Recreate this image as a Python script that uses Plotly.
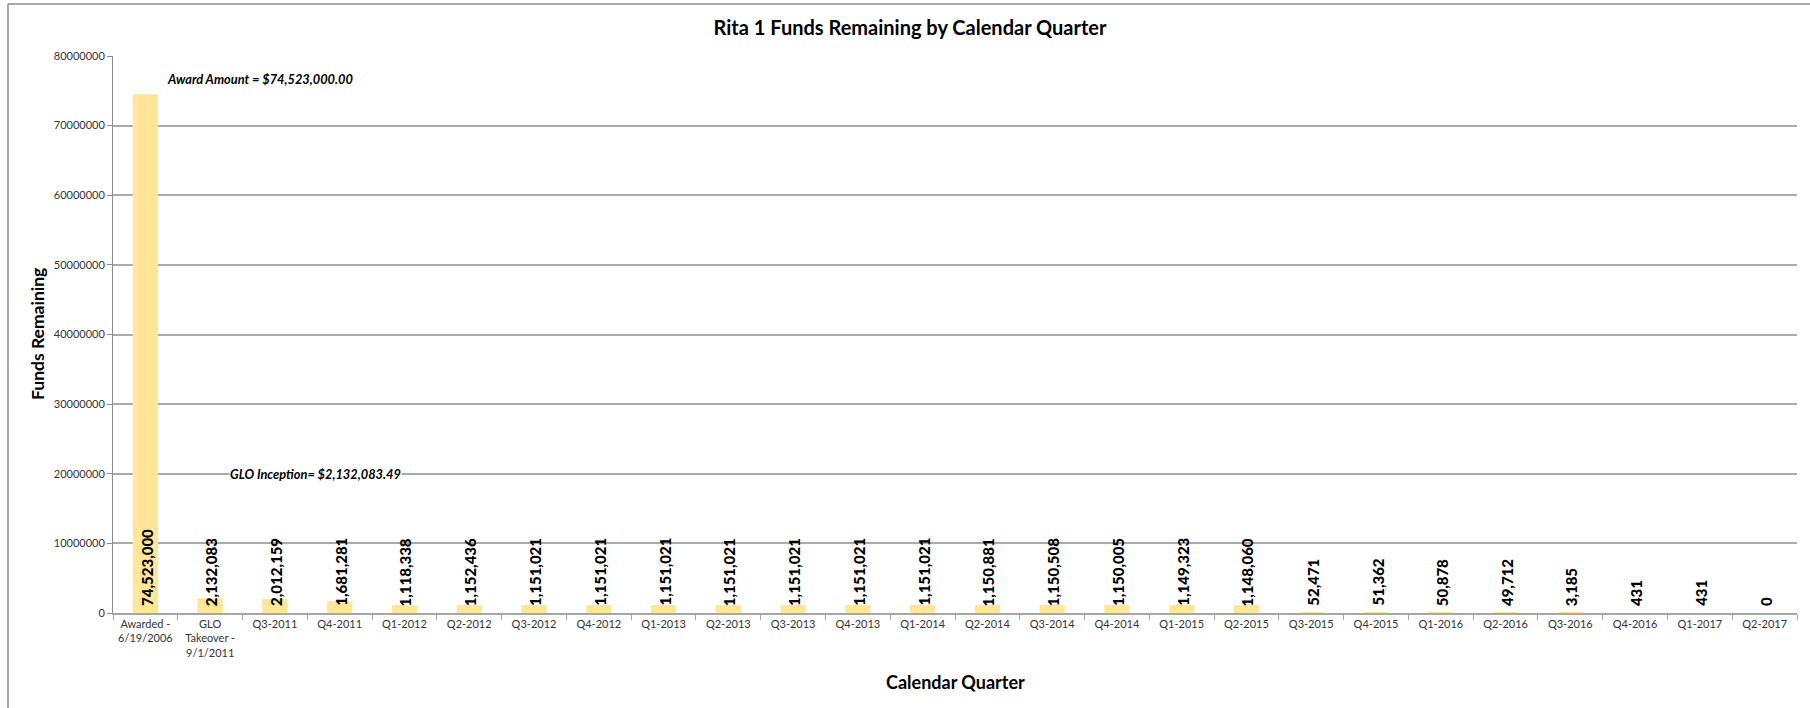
import plotly.graph_objects as go

# Quarter categories and remaining balances
categories = [
    "Awarded -<br>6/19/2006", "GLO<br>Takeover -<br>9/1/2011",
    "Q3-2011", "Q4-2011",
    "Q1-2012", "Q2-2012", "Q3-2012", "Q4-2012",
    "Q1-2013", "Q2-2013", "Q3-2013", "Q4-2013",
    "Q1-2014", "Q2-2014", "Q3-2014", "Q4-2014",
    "Q1-2015", "Q2-2015", "Q3-2015", "Q4-2015",
    "Q1-2016", "Q2-2016", "Q3-2016", "Q4-2016",
    "Q1-2017", "Q2-2017",
]
funds_remaining = [
    74523000, 2132083, 2012159, 1681281,
    1118338, 1152436, 1151021, 1151021,
    1151021, 1151021, 1151021, 1151021,
    1151021, 1150881, 1150508, 1150005,
    1149323, 1148060, 52471, 51362,
    50878, 49712, 3185, 431,
    431, 0,
]
y_ticks = [0, 10000000, 20000000, 30000000, 40000000,
           50000000, 60000000, 70000000, 80000000]

award_note = "Award Amount = $74,523,000.00"
glo_note = "GLO Inception= $2,132,083.49"

# Canvas and plot-area geometry (pixels)
W, H = 1810, 708
L, R, T, B = 113, 13, 56, 95
PW, PH = W - L - R, H - T - B


def px_x(px):
    return (px - L) / PW


def px_y(py):
    return (H - B - py) / PH


FONT = "Lato"
BAR_COLOR = "#FFE699"
GRID = "#aaaaaa"

fig = go.Figure(
    go.Bar(
        x=categories,
        y=funds_remaining,
        marker=dict(color=BAR_COLOR, line=dict(width=0)),
        hoverinfo="x+y",
    )
)

annotations = []
# Rotated value labels sitting on the baseline of each bar
for cat, val in zip(categories, funds_remaining):
    annotations.append(dict(
        x=cat, y=0, xref="x", yref="y",
        text=f"{val:,}", textangle=-90,
        showarrow=False, xanchor="center", yanchor="bottom",
        yshift=5, xshift=1,
        font=dict(family=FONT, size=15, color="#000000", weight=900),
    ))

# Callout notes
annotations.append(dict(
    x=px_x(165), y=px_y(79), xref="paper", yref="paper",
    text=f"<i>{award_note}</i>", showarrow=False,
    xanchor="left", yanchor="middle",
    font=dict(family=FONT, size=12.8, color="#000000", weight="bold"),
))
annotations.append(dict(
    x=px_x(229), y=px_y(474), xref="paper", yref="paper",
    text=f"<i>{glo_note}</i>", showarrow=False,
    xanchor="left", yanchor="middle", bgcolor="#ffffff", borderpad=0,
    font=dict(family=FONT, size=12.8, color="#000000", weight="bold"),
))

# Axis titles
annotations.append(dict(
    x=0.5, y=px_y(682), xref="paper", yref="paper",
    text="Calendar Quarter", showarrow=False,
    xanchor="center", yanchor="middle",
    font=dict(family=FONT, size=18, color="#000000", weight="bold"),
))
annotations.append(dict(
    x=px_x(37.5), y=0.5, xref="paper", yref="paper",
    text="Funds Remaining", textangle=-90, showarrow=False,
    xanchor="center", yanchor="middle",
    font=dict(family=FONT, size=17.5, color="#000000", weight="bold"),
))

# Outer chart frame (left and top edges visible)
shapes = [
    dict(type="line", xref="paper", yref="paper",
         x0=px_x(8), x1=px_x(W + 5), y0=px_y(4), y1=px_y(4),
         line=dict(color="#8c8c8c", width=1.5)),
    dict(type="line", xref="paper", yref="paper",
         x0=px_x(8), x1=px_x(8), y0=px_y(4), y1=px_y(H + 5),
         line=dict(color="#8c8c8c", width=1.5)),
]

fig.update_layout(
    width=W, height=H,
    margin=dict(l=L, r=R, t=T, b=B, autoexpand=False),
    paper_bgcolor="#ffffff", plot_bgcolor="#ffffff",
    showlegend=False,
    bargap=0.61,
    font=dict(family=FONT, color="#333333"),
    title=dict(
        text="Rita 1 Funds Remaining by Calendar Quarter",
        x=910 / W, xanchor="center", xref="container",
        y=1 - 28 / H, yanchor="middle", yref="container",
        font=dict(family=FONT, size=20, color="#000000", weight="bold"),
    ),
    xaxis=dict(
        type="category",
        showline=True, linecolor="#a6a6a6", linewidth=1.5,
        ticks="outside", tickson="boundaries", ticklen=5,
        tickcolor="#a6a6a6", tickwidth=1,
        tickfont=dict(family=FONT, size=11, color="#333333"),
        showgrid=False,
        tickangle=0,
    ),
    yaxis=dict(
        range=[0, 80000000],
        tickvals=y_ticks,
        ticktext=[str(v) for v in y_ticks],
        showline=True, linecolor="#8c8c8c", linewidth=1,
        ticks="outside", ticklen=5, tickcolor="#8c8c8c",
        tickfont=dict(family=FONT, size=11, color="#333333"),
        showgrid=True, gridcolor=GRID, gridwidth=1.5,
        zeroline=False,
    ),
    annotations=annotations,
    shapes=shapes,
)

fig.write_html("out.html")
